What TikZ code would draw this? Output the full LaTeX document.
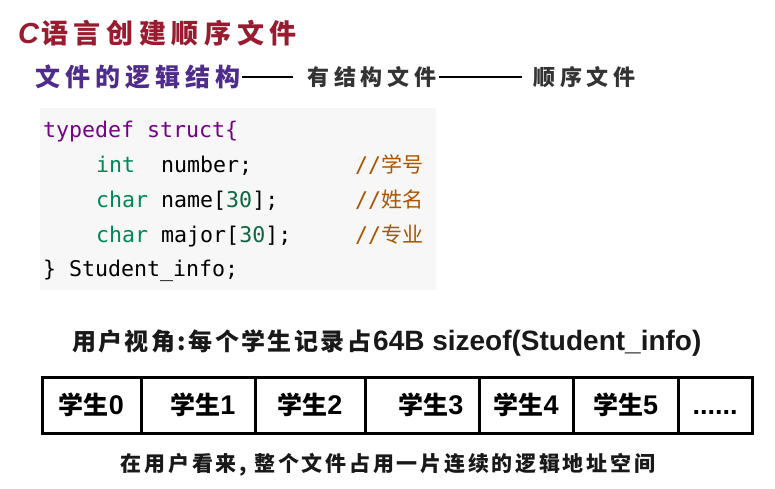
\documentclass[tikz,border=0pt]{standalone}
\usepackage{fontspec}
\setmainfont{Liberation Sans}
\setmonofont{DejaVu Sans Mono}
\newfontfamily\cjk{Noto Sans CJK SC}
\usepackage{tikz}
\usetikzlibrary{positioning}
\usepackage{xcolor}

\definecolor{titlered}{HTML}{9A1B30}
\definecolor{subpurple}{HTML}{4F2C8C}
\definecolor{darkgray}{HTML}{333333}
\definecolor{codebg}{HTML}{F7F7F7}
\definecolor{kwpurple}{HTML}{770088}
\definecolor{typegreen}{HTML}{008855}
\definecolor{numgreen}{HTML}{116644}
\definecolor{cmtbrown}{HTML}{AA5500}

\newcommand{\codefont}{\ttfamily\fontsize{21.6}{26}\selectfont}
\newcommand{\cmtcjk}{\cjk\fontsize{21}{26}\selectfont}
\newcommand{\wide}[3]{{\cjk\bfseries\fontsize{#1}{#1}\selectfont\addfontfeature{LetterSpace=#2}#3}}
\newcommand{\stu}[1]{{\cjk\bfseries\fontsize{25}{25}\selectfont 学生}{\bfseries\fontsize{27}{27}\selectfont #1}}

\begin{document}
\begin{tikzpicture}[x=1pt, y=-1pt,
    every node/.style={inner sep=0pt},
    codeline/.style={anchor=base west, font=\codefont},
    comment/.style={anchor=base west, text=cmtbrown},
    cell/.style={draw, line width=3pt, minimum height=56pt},
    linkline/.style={line width=2.5pt}]
    \useasboundingbox (0,0) rectangle (775,489);

    % Title
    \node[anchor=west, text=titlered] (title) at (18,33)
        {{\bfseries\itshape\fontsize{29}{29}\selectfont C}\hspace{2pt}\wide{27}{21}{语言创建顺序文件}};

    % Logical structure of a file
    \node[anchor=west, text=subpurple] (logic) at (35,77) {\wide{25}{20}{文件的逻辑结构}};
    \node[anchor=west, text=darkgray] (structured) at (307,77) {\wide{22}{22}{有结构文件}};
    \node[anchor=west, text=darkgray] (sequential) at (533,77) {\wide{22}{22}{顺序文件}};
    \draw[linkline, shorten <=2pt, shorten >=14pt] (logic.east) -- (logic.east -| structured.west);
    \draw[linkline, shorten <=2pt, shorten >=11pt] (structured.east) -- (structured.east -| sequential.west);

    % Code
    \node[fill=codebg, anchor=north west, minimum width=396pt, minimum height=182pt] (codebox) at (40,108) {};
    \node[codeline] (code1) at (43,138) {\textcolor{kwpurple}{typedef struct\{}};
    \node[codeline] (code2) at (96,172) {\textcolor{typegreen}{int}\ \ number;};
    \node[codeline] (code3) at (96,207) {\textcolor{typegreen}{char} name[\textcolor{numgreen}{30}];};
    \node[codeline] (code4) at (96,242) {\textcolor{typegreen}{char} major[\textcolor{numgreen}{30}];};
    \node[codeline] (code5) at (43,276) {\} Student\_info;};
    \node[comment] (cmt2) at (355,172) {{\codefont //}{\cmtcjk 学号}};
    \node[comment] (cmt3) at (355,207) {{\codefont //}{\cmtcjk 姓名}};
    \node[comment] (cmt4) at (355,242) {{\codefont //}{\cmtcjk 专业}};

    % User view
    \node[anchor=base west, text=black!90] (view) at (72,350) {\wide{24}{10}{用户视角:每个学生记录占}};
    \node[anchor=base west, text=black!90] (size) at (373,350) {\bfseries\fontsize{28}{28}\selectfont 64B sizeof(Student\_info)};

    % Records
    \node[cell, minimum width=99pt] (s0) at (91.5,405) {\stu{0}\hspace{6pt}};
    \node[cell, minimum width=114pt] (s1) at (198,405) {\hspace{10pt}\stu{1}};
    \node[cell, minimum width=110pt] (s2) at (310,405) {\stu{2}};
    \node[cell, minimum width=114pt] (s3) at (422,405) {\hspace{18pt}\stu{3}};
    \node[cell, minimum width=94pt] (s4) at (526,405) {\stu{4}};
    \node[cell, minimum width=105pt] (s5) at (625.5,405) {\stu{5}};
    \node[cell, minimum width=74pt] (more) at (715,405) {\bfseries\fontsize{27}{27}\selectfont\vphantom{0}......};

    \node[text=black!90] (note) at (388,465) {\wide{21}{13}{在用户看来, 整个文件占用一片连续的逻辑地址空间}};
\end{tikzpicture}
\end{document}
